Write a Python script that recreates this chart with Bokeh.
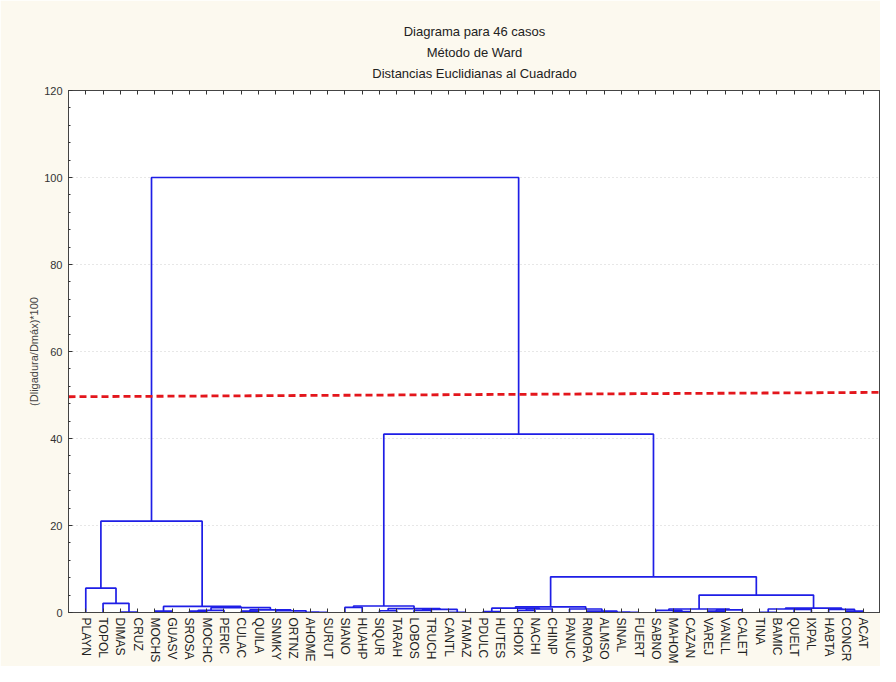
from bokeh.plotting import figure
from bokeh.models import Range1d, FixedTicker, LinearAxis, Title
from bokeh.embed import file_html
from bokeh.resources import INLINE

# ---- data -------------------------------------------------------------
cases = ["PLAYN", "TOPOL", "DIMAS", "CRUZ", "MOCHS", "GUASV", "SROSA", "MOCHC",
         "PERIC", "CULAC", "QUILA", "SNMKY", "ORTNZ", "AHOME", "SURUT", "SIANO",
         "HUAHP", "SIQUR", "TARAH", "LOBOS", "TRUCH", "CANTL", "TAMAZ", "PDULC",
         "HUTES", "CHOIX", "NACHI", "CHINP", "PANUC", "RMORA", "ALMSO", "SINAL",
         "FUERT", "SABNO", "MAHOM", "CAZAN", "VAREJ", "VANLL", "CALET", "TINA",
         "BAMIC", "QUELT", "IXPAL", "HABTA", "CONCR", "ACAT"]

# merges: member a, member b (case name or index of an earlier merge), linkage height
link_a = ["DIMAS", "TOPOL", "PLAYN", "MOCHS", "SROSA", 4, "CULAC", "AHOME", "ORTNZ",
          "SNMKY", 6, 5, 3, 2,
          "SIANO", "SIQUR", "LOBOS", "CANTL", 16, 15, 14,
          "PDULC", "CHOIX", 22, 21, "SINAL", "ALMSO", "RMORA", "PANUC", 24,
          "MAHOM", "SABNO", "VAREJ", 32, 31, "TINA", "QUELT", 35, "CONCR", "HABTA",
          37, 34, 29, 20, 13]
link_b = ["CRUZ", 0, 1, "GUASV", "MOCHC", "PERIC", "QUILA", "SURUT", 7,
          8, 9, 10, 11, 12,
          "HUAHP", "TARAH", "TRUCH", "TAMAZ", 17, 18, 19,
          "HUTES", "NACHI", "CHINP", 23, "FUERT", 25, 26, 27, 28,
          "CAZAN", 30, "VANLL", "CALET", 33, "BAMIC", "IXPAL", 36, "ACAT", 38,
          39, 40, 41, 42, 43]
link_h = [0.1, 2.1, 5.6, 0.3, 0.3, 0.5, 0.3, 0.02, 0.05,
          0.4, 0.6, 1.1, 1.4, 21.0,
          1.2, 0.4, 0.5, 0.02, 0.7, 0.9, 1.5,
          0.2, 0.5, 0.8, 1.0, 0.02, 0.05, 0.3, 0.8, 1.3,
          0.2, 0.5, 0.3, 0.6, 0.8, 0.05, 0.7, 0.8, 0.3, 0.7,
          1.0, 4.0, 8.2, 41.0, 100.0]

cut_x = [0, 47]
cut_y = [49.6, 50.6]

y_ticks = [0, 20, 40, 60, 80, 100, 120]

# ---- build the tree segments -------------------------------------------
leaf_pos = {name: i + 1 for i, name in enumerate(cases)}
node_pos, node_h = [], []


def member(m):
    if isinstance(m, str):
        return leaf_pos[m], 0.0
    return node_pos[m], node_h[m]


xs, ys = [], []
for a, b, h in zip(link_a, link_b, link_h):
    xa, ha = member(a)
    xb, hb = member(b)
    xs.append([xa, xa, xb, xb])
    ys.append([ha, h, h, hb])
    node_pos.append((xa + xb) / 2.0)
    node_h.append(h)

# ---- figure ------------------------------------------------------------
FONT = "Liberation Sans"
p = figure(width=880, height=666, x_range=Range1d(0, len(cases) + 1),
           y_range=Range1d(0, 120), output_backend="svg", toolbar_location=None,
           title=None, min_border_left=68, min_border_right=0,
           min_border_top=90, min_border_bottom=44)
p.background_fill_color = "white"
p.border_fill_color = "#fcf9ef"
p.outline_line_color = "#444444"
p.outline_line_width = 1

p.multi_line(xs, ys, line_color="#1e1ee6", line_width=1.7)
p.line(cut_x, cut_y, line_color="#e3161c", line_width=2.8, line_dash="7 4")

# grid
p.xgrid.visible = False
p.ygrid.ticker = FixedTicker(ticks=y_ticks)
p.ygrid.grid_line_color = "#cfcfcf"
p.ygrid.grid_line_dash = "1 3"

# y axis
ya = p.yaxis[0]
ya.ticker = FixedTicker(ticks=y_ticks,
                        minor_ticks=[v for v in range(0, 121, 4) if v % 20])
ya.axis_label = "(Dligadura/Dmáx)*100"
ya.axis_label_text_font = FONT
ya.axis_label_text_font_size = "11px"
ya.axis_label_text_font_style = "normal"
ya.axis_label_text_color = "#444444"
ya.axis_label_standoff = 1
ya.major_label_text_font = FONT
ya.major_label_text_font_size = "11px"
ya.major_label_text_color = "#333333"
ya.major_label_standoff = 6
ya.major_tick_in = 4
ya.major_tick_out = 0
ya.minor_tick_in = 2
ya.minor_tick_out = 0
ya.axis_line_color = "#444444"
ya.major_tick_line_color = "#333333"
ya.minor_tick_line_color = "#333333"

# x axis with case labels
xa_ = p.xaxis[0]
xa_.ticker = FixedTicker(ticks=list(range(1, len(cases) + 1)))
xa_.major_label_overrides = {i + 1: n for i, n in enumerate(cases)}
xa_.major_label_orientation = "vertical"
xa_.major_label_text_font = FONT
xa_.major_label_text_font_size = "12px"
xa_.major_label_text_color = "#222222"
xa_.major_label_standoff = 5
xa_.major_tick_in = 4
xa_.major_tick_out = 0
xa_.minor_tick_line_color = None
xa_.axis_line_color = "#444444"
xa_.major_tick_line_color = "#333333"

# top axis: ticks only
top = LinearAxis(ticker=FixedTicker(ticks=list(range(1, len(cases) + 1))),
                 major_label_overrides={i + 1: "" for i in range(len(cases))},
                 major_label_text_font_size="1px", major_label_standoff=0,
                 major_tick_in=4, major_tick_out=0, minor_tick_line_color=None,
                 axis_line_color="#444444", major_tick_line_color="#333333")
p.add_layout(top, "above")

for txt, so in [("Distancias Euclidianas al Cuadrado", 20), ("Método de Ward", -12),
                ("Diagrama para 46 casos", 20)]:
    p.add_layout(Title(text=txt, align="center", text_font=FONT,
                       text_font_size="13px", text_font_style="normal",
                       text_color="#222222", standoff=so), "above")

open("out.html", "w").write(file_html(p, INLINE))
